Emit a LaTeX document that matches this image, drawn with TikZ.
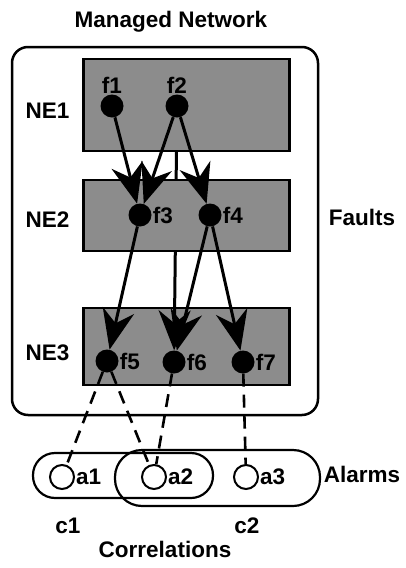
\documentclass[tikz,border=0pt]{standalone}
\usepackage{fontspec}
\setmainfont{Liberation Sans}
\usetikzlibrary{arrows.meta, positioning}

\begin{document}
\begin{tikzpicture}[
    x=1pt, y=-1pt,
    txt/.style={font=\fontsize{22.5}{26}\selectfont\bfseries, inner sep=1pt},
    ne/.style={draw, line width=2.5pt, fill=black!45, minimum width=206pt},
    flt/.style={circle, fill=black, inner sep=0pt, minimum size=23pt, label distance=4pt},
    alm/.style={circle, draw, fill=white, line width=2pt, inner sep=0pt, minimum size=24pt, label distance=4pt},
    grp/.style={draw, line width=2.2pt, rounded corners=24pt},
    cause/.style={-{Stealth[length=40pt, width=32pt, inset=13pt]}, line width=3pt},
    corr/.style={line width=2.6pt, dash pattern=on 13pt off 8pt},
]
\useasboundingbox (0,0) rectangle (405,568);

% --- Managed Network (outer frame) ---
\node[txt, anchor=base] (title) at (171,27) {Managed Network};
\node[draw, line width=2.5pt, rounded corners=16pt, minimum width=306pt, minimum height=368pt] (net) at (165,231) {};

% --- NE3 first, the f2 -> f6 line runs behind NE1 and NE2 ---
\node[ne, minimum height=77pt] (ne3) at (186.5,346.5) {};
\coordinate (f2c) at (177,106);
\node[flt, label={[txt]right:f6}] (f6) at (174,362) {};
\draw[cause] (f2c) -- (f6);

% --- NE1 / NE2 ---
\node[ne, minimum height=92pt] (ne1) at (186.5,105) {};
\node[ne, minimum height=71pt] (ne2) at (186.5,215.5) {};

\node[txt, anchor=base] (ne1lbl) at (47.5,118) {NE1};
\node[txt, anchor=base] (ne2lbl) at (47.5,227) {NE2};
\node[txt, anchor=base] (ne3lbl) at (47.5,360) {NE3};
\node[txt, anchor=base] (faults) at (362,225) {Faults};

% --- faults ---
\node[flt, label={[txt]above:f1}] (f1) at (112,106) {};
\node[flt, label={[txt]above:f2}] (f2) at (f2c) {};
\node[flt, label={[txt]right:f3}] (f3) at (140,215) {};
\node[flt, label={[txt]right:f4}] (f4) at (210,215) {};
\node[flt, label={[txt]right:f5}] (f5) at (107,361) {};
\node[flt, label={[txt]right:f7}] (f7) at (243,362) {};

% --- Connections ---
\draw[cause] (f1) -- (f3);
\draw[cause] (f2) -- (f3);
\draw[cause] (f2) -- (f4);
\draw[cause] (f3) -- (f5);
\draw[cause] (f4) -- (f6);
\draw[cause] (f4) -- (f7);

% --- correlations c1, c2 ---
\node[grp, minimum width=180pt, minimum height=45pt, rounded corners=22pt] (c1box) at (123,475.5) {};
\node[grp, minimum width=205pt, minimum height=56pt, rounded corners=27pt] (c2box) at (217.5,478) {};

% --- alarms ---
\node[alm, label={[txt]right:a1}] (a1) at (62,477) {};
\node[alm, label={[txt]right:a2}] (a2) at (154,477) {};
\node[alm, label={[txt]right:a3}] (a3) at (246,477) {};
\node[txt, anchor=base] (alarms) at (362,482) {Alarms};

\draw[corr] (f5) -- (a1);
\draw[corr] (f5) -- (a2);
\draw[corr] (f6) -- (a2);
\draw[corr] (f7) -- (a3);

\node[txt, anchor=base] (c1) at (68,533) {c1};
\node[txt, anchor=base] (c2) at (247,533) {c2};
\node[txt, anchor=base] (corrs) at (165,557) {Correlations};

\end{tikzpicture}
\end{document}
